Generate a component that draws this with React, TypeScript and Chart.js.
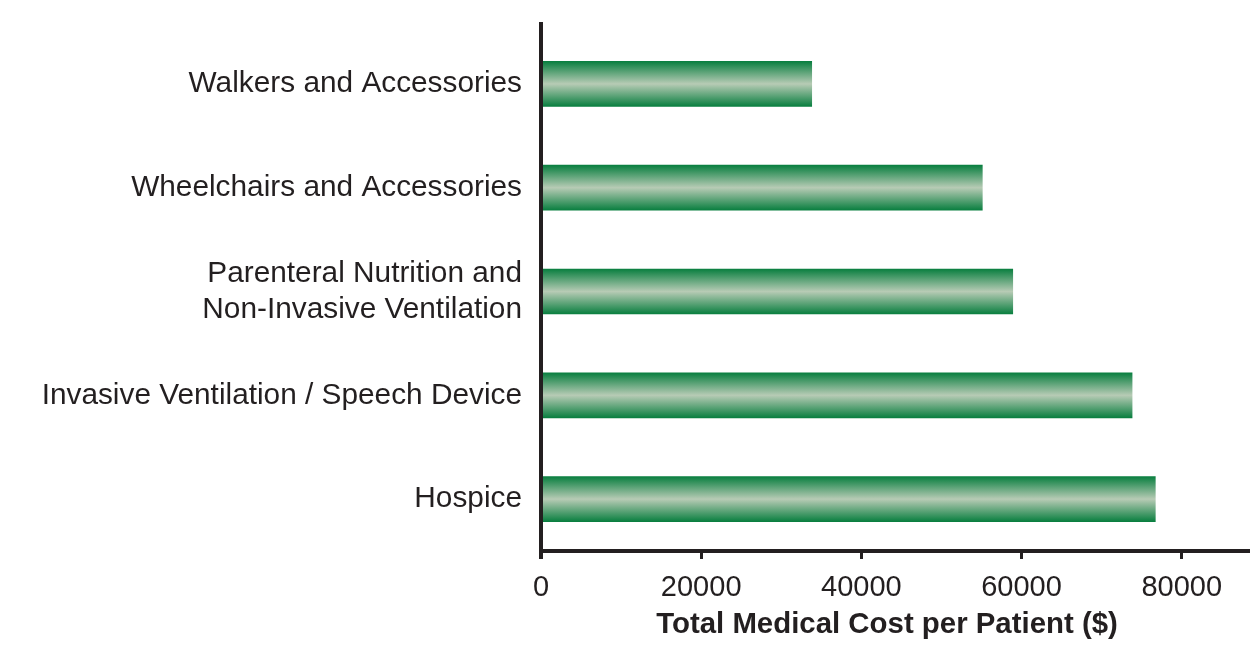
import React, { useEffect, useRef } from "react";
import { Chart, registerables } from "chart.js";

Chart.register(...registerables);

const categories: (string | string[])[] = [
  "Walkers and Accessories",
  "Wheelchairs and Accessories",
  ["Parenteral Nutrition and", "Non-Invasive Ventilation"],
  "Invasive Ventilation / Speech Device",
  "Hospice",
];
const costValues: number[] = [33800, 55100, 58900, 73800, 76700];
const xTicks: number[] = [0, 20000, 40000, 60000, 80000];
const xMax = 86400;
const xAxisTitle = "Total Medical Cost per Patient ($)";

const INK = "#231f20";
const FONT = "'Liberation Sans', Arial, Helvetica, sans-serif";
const BAR_H = 45;

const axisLinesPlugin = {
  id: "axisLines",
  afterDatasetsDraw(chart: any) {
    const { ctx, chartArea } = chart;
    ctx.save();
    ctx.strokeStyle = INK;
    ctx.lineWidth = 4;
    ctx.beginPath();
    ctx.moveTo(chartArea.left, 22);
    ctx.lineTo(chartArea.left, chartArea.bottom + 8);
    ctx.stroke();
    ctx.beginPath();
    ctx.moveTo(chartArea.left - 2, chartArea.bottom);
    ctx.lineTo(chart.width, chartArea.bottom);
    ctx.stroke();
    ctx.restore();
  },
};

export default function App() {
  const canvasRef = useRef<HTMLCanvasElement | null>(null);

  useEffect(() => {
    document.body.style.margin = "0";
    const canvas = canvasRef.current;
    if (!canvas) return;
    const chart = new Chart(canvas, {
      type: "bar",
      data: {
        labels: categories,
        datasets: [
          {
            data: costValues,
            barThickness: BAR_H,
            borderWidth: 0,
            backgroundColor: (c: any) => {
              const ch = c.chart;
              const ys = ch.scales && ch.scales.y;
              if (!ys || c.dataIndex === undefined) return "#0a7f40";
              const mid = ys.getPixelForValue(c.dataIndex);
              if (!isFinite(mid)) return "#0a7f40";
              const g = ch.ctx.createLinearGradient(0, mid - BAR_H / 2, 0, mid + BAR_H / 2);
              g.addColorStop(0, "#0a7f40");
              g.addColorStop(0.5, "#b7cbb5");
              g.addColorStop(1, "#0a7f40");
              return g;
            },
          },
        ],
      },
      options: {
        indexAxis: "y",
        animation: false,
        responsive: false,
        maintainAspectRatio: false,
        layout: { padding: { top: 32, right: 17, left: 0, bottom: 0 } },
        plugins: {
          legend: { display: false },
          tooltip: { enabled: false },
        },
        scales: {
          x: {
            min: 0,
            max: xMax,
            border: { display: false },
            grid: {
              display: true,
              drawOnChartArea: false,
              drawTicks: true,
              tickLength: 8,
              lineWidth: 3,
              color: INK,
            },
            afterBuildTicks: (s: any) => {
              s.ticks = xTicks.map((v) => ({ value: v }));
            },
            ticks: {
              color: INK,
              padding: 12,
              maxRotation: 0,
              autoSkip: false,
              font: { family: FONT, size: 29 },
              callback: (v: any) => String(v),
            },
            title: {
              display: true,
              text: xAxisTitle,
              color: INK,
              font: { family: FONT, size: 29.4, weight: "bold" },
              padding: { top: 4, bottom: 2 },
            },
            afterFit: (s: any) => {
              s.height = 94;
            },
          },
          y: {
            border: { display: false },
            grid: { display: false, drawTicks: false },
            ticks: {
              color: INK,
              padding: 19,
              font: { family: FONT, size: 29.8, lineHeight: 1.2 },
            },
            afterFit: (s: any) => {
              s.width = 541;
              s.paddingTop = 0;
              s.paddingBottom = 0;
            },
          },
        },
      },
      plugins: [axisLinesPlugin],
    } as any);
    return () => chart.destroy();
  }, []);

  return (
    <div style={{ position: "absolute", left: 0, top: 0, width: 1250, height: 645 }}>
      <canvas ref={canvasRef} width={1250} height={645} style={{ width: 1250, height: 645 }} />
    </div>
  );
}
